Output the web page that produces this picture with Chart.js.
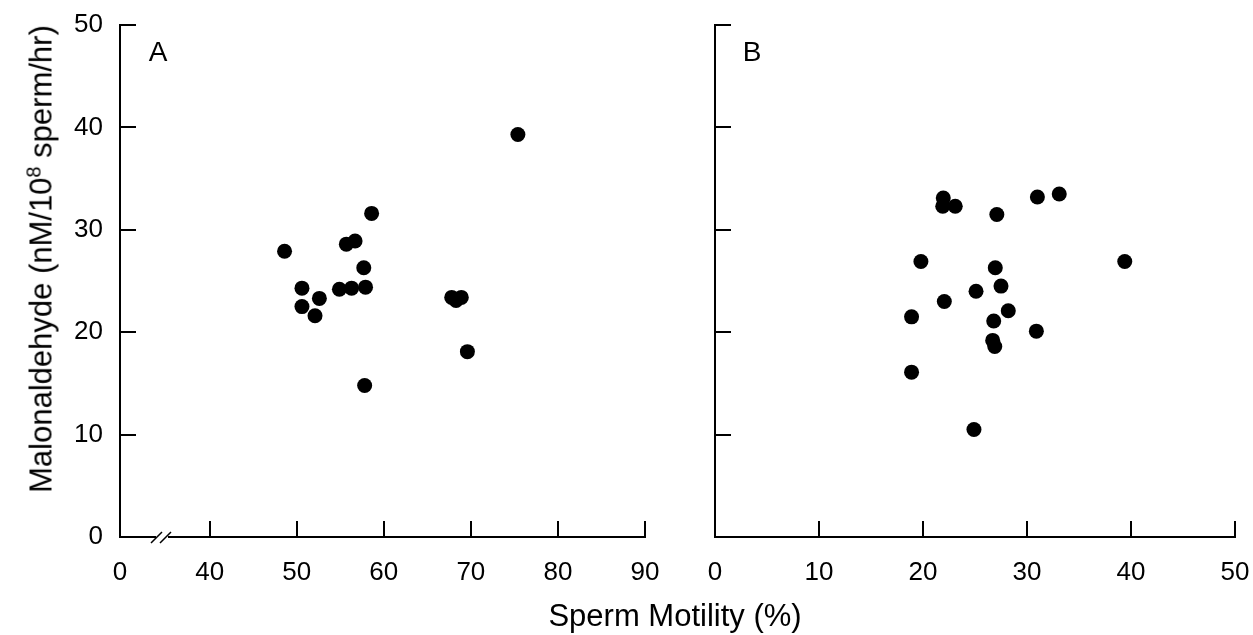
<!DOCTYPE html>
<html>
<head>
<meta charset="utf-8">
<script src="https://cdn.jsdelivr.net/npm/chart.js@4.4.1/dist/chart.umd.min.js"></script>
<style>
  body { margin: 0; background: #fff; }
  #wrap { position: relative; width: 1253px; height: 635px; font-family: "Liberation Sans", Arial, sans-serif; color: #000; }
  canvas { position: absolute; top: 0; }
  .lbl { position: absolute; white-space: nowrap; line-height: 1; }
</style>
</head>
<body>
<div id="wrap">
  <canvas id="chartA" width="680" height="635" style="left:0"></canvas>
  <canvas id="chartB" width="573" height="635" style="left:680px"></canvas>
  <div class="lbl" style="left:158px; top:38px; font-size:28px; transform:translateX(-50%)">A</div>
  <div class="lbl" style="left:752px; top:38px; font-size:28px; transform:translateX(-50%)">B</div>
  <div class="lbl" style="left:675px; top:600px; font-size:31px; transform:translateX(-50%)">Sperm Motility (%)</div>
  <div class="lbl" style="left:40px; top:259px; font-size:31px; transform:translate(-50%,-50%) rotate(-90deg)">Malonaldehyde (nM/10<sup style="font-size:20px; vertical-align:11px">8</sup> sperm/hr)</div>
</div>
<script>
// panel A: normal motility group
const motilityA = [75.4, 58.6, 55.7, 56.7, 48.6, 57.7, 50.6, 54.9, 56.3, 57.9, 52.6, 50.6, 52.1, 67.8, 68.3, 68.9, 69.6, 57.8];
const mdaA = [39.3, 31.6, 28.6, 28.9, 27.9, 26.3, 24.3, 24.2, 24.3, 24.4, 23.3, 22.5, 21.6, 23.4, 23.1, 23.4, 18.1, 14.8];

// panel B: low motility group
const motilityB = [21.95, 21.9, 23.1, 31.0, 33.1, 27.1, 19.8, 39.4, 26.95, 27.5, 25.1, 22.05, 28.2, 18.9, 26.8, 30.9, 26.7, 26.9, 18.9, 24.9];
const mdaB = [33.1, 32.3, 32.3, 33.2, 33.5, 31.5, 26.9, 26.9, 26.3, 24.5, 24.0, 23.0, 22.1, 21.5, 21.1, 20.1, 19.2, 18.6, 16.1, 10.5];

// tick labels
const xBreakA = 29.7;          // where the broken axis starts, labelled "0"
const xTicksA = [40, 50, 60, 70, 80, 90];
const xTicksB = [0, 10, 20, 30, 40, 50];
const yTicks = [0, 10, 20, 30, 40, 50];

const tickFont = { family: '"Liberation Sans", Arial, sans-serif', size: 26 };

function points(xs, ys) {
  return xs.map((x, i) => ({ x: x, y: ys[i] }));
}

function axisGrid() {
  return {
    display: true,
    drawOnChartArea: false,
    drawTicks: true,
    tickLength: -16,
    color: '#000',
    lineWidth: 2
  };
}

// keep label overhang from pushing the plot area around
function noPad(scale) {
  scale.paddingLeft = 0;
  scale.paddingRight = 0;
  scale.paddingTop = 0;
  scale.paddingBottom = 0;
}

// the little "//" on the x axis of panel A
const breakMark = {
  id: 'breakMark',
  afterDraw(chart) {
    const ctx = chart.ctx;
    const y = chart.chartArea.bottom;
    const x0 = chart.chartArea.left;
    ctx.save();
    ctx.fillStyle = '#fff';
    ctx.fillRect(x0 + 36, y - 3, 12, 6);
    ctx.strokeStyle = '#000';
    ctx.lineWidth = 1.5;
    ctx.beginPath();
    ctx.moveTo(x0 + 31, y + 6); ctx.lineTo(x0 + 42, y - 5);
    ctx.moveTo(x0 + 40, y + 6); ctx.lineTo(x0 + 51, y - 5);
    ctx.stroke();
    ctx.restore();
  }
};

function makeChart(id, xs, ys, xMin, xMax, xTickVals, yWidth, padRight, showYLabels, plugins) {
  return new Chart(document.getElementById(id), {
    type: 'scatter',
    data: {
      datasets: [{
        data: points(xs, ys),
        backgroundColor: '#000',
        borderWidth: 0,
        pointRadius: 7.5,
        pointHoverRadius: 7.5
      }]
    },
    options: {
      responsive: false,
      animation: false,
      layout: { padding: { left: 0, top: 25, right: padRight, bottom: 0 } },
      plugins: { legend: { display: false }, tooltip: { enabled: false } },
      scales: {
        x: {
          type: 'linear',
          min: xMin,
          max: xMax,
          afterBuildTicks: (scale) => { scale.ticks = xTickVals.map(v => ({ value: v })); },
          afterFit: (scale) => { scale.height = 98; noPad(scale); },
          ticks: {
            autoSkip: false,
            maxRotation: 0,
            padding: 36,
            color: '#000',
            font: tickFont,
            callback: (v) => (v === xBreakA ? '0' : v)
          },
          grid: axisGrid(),
          border: { display: true, color: '#000', width: 2 }
        },
        y: {
          type: 'linear',
          min: 0,
          max: 50,
          afterBuildTicks: (scale) => { scale.ticks = yTicks.map(v => ({ value: v })); },
          afterFit: (scale) => { scale.width = yWidth; noPad(scale); },
          ticks: {
            display: showYLabels,
            padding: 33,
            color: '#000',
            font: tickFont
          },
          grid: axisGrid(),
          border: { display: true, color: '#000', width: 2 }
        }
      }
    },
    plugins: plugins
  });
}

makeChart('chartA', motilityA, mdaA, xBreakA, 90, [xBreakA].concat(xTicksA), 120, 35, true, [breakMark]);
makeChart('chartB', motilityB, mdaB, 0, 50, xTicksB, 35, 18, false, []);
</script>
</body>
</html>
